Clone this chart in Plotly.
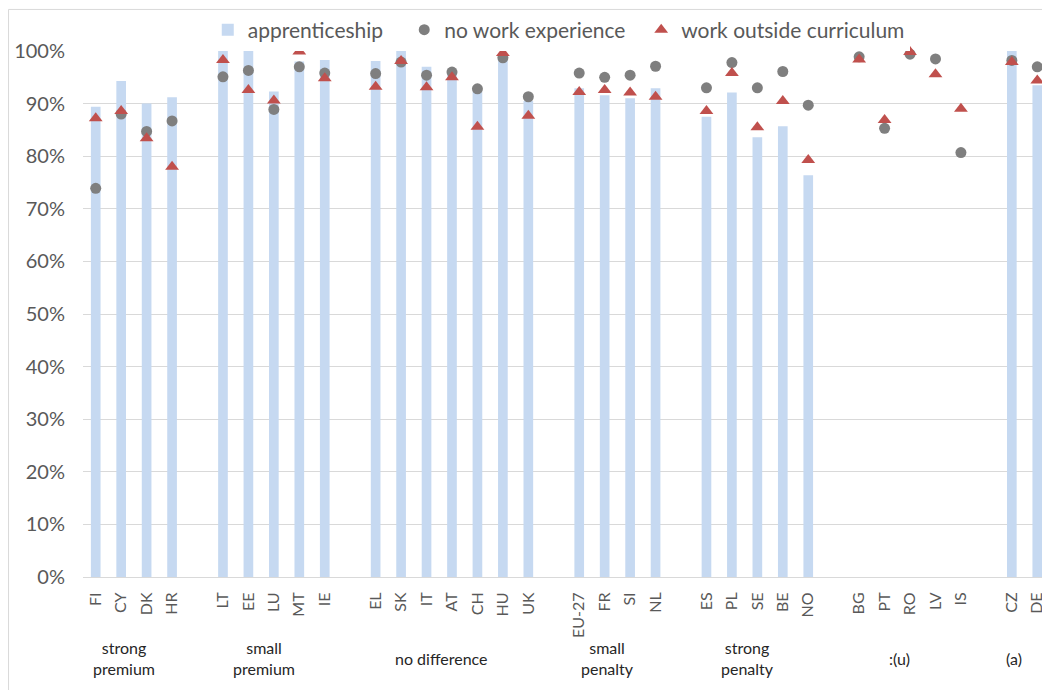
import plotly.graph_objects as go

# groups of countries (order as in the chart)
group_names = ["strong<br>premium", "small<br>premium", "no difference",
               "small<br>penalty", "strong<br>penalty", ":(u)", "(a)"]
groups = [
    ["FI", "CY", "DK", "HR"],
    ["LT", "EE", "LU", "MT", "IE"],
    ["EL", "SK", "IT", "AT", "CH", "HU", "UK"],
    ["EU-27", "FR", "SI", "NL"],
    ["ES", "PL", "SE", "BE", "NO"],
    ["BG", "PT", "RO", "LV", "IS"],
    ["CZ", "DE"],
]

# values in %, same order as the countries above
apprenticeship = [89.4, 94.3, 90.0, 91.2,
                  100, 100, 92.3, 98.0, 98.3,
                  98.1, 100, 97.0, 96.0, 92.3, 98.7, 90.5,
                  92.9, 91.6, 91.0, 92.9,
                  87.5, 92.1, 83.6, 85.7, 76.4,
                  None, None, None, None, None,
                  100, 93.5]
no_work_experience = [73.9, 88.0, 84.7, 86.7,
                      95.1, 96.3, 88.9, 97.0, 95.8,
                      95.7, 97.9, 95.4, 96.0, 92.8, 98.7, 91.3,
                      95.8, 95.0, 95.4, 97.1,
                      93.0, 97.8, 93.0, 96.1, 89.7,
                      98.9, 85.3, 99.4, 98.5, 80.7,
                      98.2, 97.0]
work_outside_curriculum = [87.2, 88.6, 83.4, 78.0,
                           98.3, 92.6, 90.6, 99.9, 94.8,
                           93.2, 98.1, 93.1, 95.0, 85.6, 99.6, 87.7,
                           92.2, 92.6, 92.1, 91.3,
                           88.6, 95.8, 85.5, 90.5, 79.3,
                           98.4, 86.9, 99.8, 95.6, 89.0,
                           97.9, 94.4]

countries = [c for g in groups for c in g]

# category order with blank slots between the groups
category_order = []
group_centers = []
for i, g in enumerate(groups):
    start = len(category_order)
    category_order += g
    group_centers.append(start + (len(g) - 1) / 2)
    if i < len(groups) - 1:
        category_order.append(" " * (i + 1))

FONT = "Lato"
TXT = "#595959"
NBSP = "\u00a0"

fig = go.Figure()
# trailing nbsp only widen the legend entries a bit, like in the original
fig.add_trace(go.Bar(
    x=countries, y=apprenticeship, name="apprenticeship" + NBSP * 3,
    marker=dict(color="#C6D9F1", line_width=0),
))
fig.add_trace(go.Scatter(
    x=countries, y=no_work_experience, name="no work experience" + NBSP * 2,
    mode="markers", cliponaxis=False,
    marker=dict(symbol="circle", size=11, color="#7F7F7F"),
))
fig.add_trace(go.Scatter(
    x=countries, y=work_outside_curriculum, name="work outside curriculum",
    mode="markers", cliponaxis=False,
    marker=dict(symbol="triangle-up", size=12, color="#C0504D"),
))

for name, cx in zip(group_names, group_centers):
    fig.add_annotation(
        x=cx - 0.4, y=-0.154, xref="x", yref="paper",
        text=name, showarrow=False, yanchor="middle",
        font=dict(family=FONT, size=16, color="#262626"),
    )

# light frame of the chart area (Excel style)
fig.add_shape(type="rect", xref="paper", yref="paper",
              x0=-0.077, x1=1.2, y0=-0.5, y1=1.079,
              line=dict(color="#D9D9D9", width=1), layer="below")

# page body has an 8px margin, so the figure is 8px smaller each way
fig.update_layout(
    width=1042, height=682,
    margin=dict(l=75, r=0, t=43, b=113, autoexpand=False),
    plot_bgcolor="white", paper_bgcolor="white",
    bargap=0.62,
    font=dict(family=FONT, size=16, color=TXT),
    legend=dict(orientation="h", x=0.492, xanchor="center",
                yref="container", y=1 - 22 / 682, yanchor="middle",
                font=dict(size=21, color=TXT),
                itemwidth=30, traceorder="normal"),
    xaxis=dict(categoryorder="array", categoryarray=category_order,
               range=[-0.5, len(category_order) - 0.5],
               tickangle=-90, showgrid=False, showline=True,
               linecolor="#D9D9D9", linewidth=1, ticks="",
               ticklabelstandoff=8,
               tickfont=dict(size=16, color=TXT)),
    yaxis=dict(range=[0, 100], dtick=10, ticksuffix="%",
               showgrid=True, gridcolor="#D9D9D9", gridwidth=1,
               zeroline=False, ticks="", ticklabelstandoff=17,
               tickfont=dict(size=20, color=TXT)),
)

fig.write_html("out.html")
